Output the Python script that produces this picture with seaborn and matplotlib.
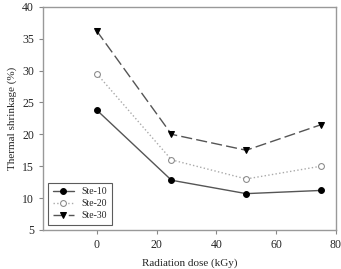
import pandas as pd
import matplotlib.pyplot as plt
import seaborn as sns

dose = [0, 25, 50, 75]
ste10 = [23.8, 12.8, 10.7, 11.2]
ste20 = [29.5, 16.0, 13.0, 15.0]
ste30 = [36.2, 20.0, 17.5, 21.5]

sns.set_style('ticks')
plt.rcParams['font.family'] = ['Liberation Serif', 'DejaVu Serif']

fig, ax = plt.subplots(figsize=(3.41, 2.69), dpi=100)

styles = [
    ('Ste-10', ste10, dict(color='#555555', linestyle='-', marker='o', markerfacecolor='black',
                           markeredgecolor='black', markersize=4.2)),
    ('Ste-20', ste20, dict(color='#aaaaaa', linestyle=':', marker='o', markerfacecolor='white',
                           markeredgecolor='#888888', markersize=4.2)),
    ('Ste-30', ste30, dict(color='#555555', linestyle=(0, (8, 3)), marker='v', markerfacecolor='black',
                           markeredgecolor='black', markersize=4.2)),
]
for name, vals, kw in styles:
    sns.lineplot(x=dose, y=vals, ax=ax, label=name, linewidth=1.0, **kw)

ax.set_xlim(-18, 80)
ax.set_ylim(5, 40)
ax.set_xticks([0, 20, 40, 60, 80])
ax.set_yticks(range(5, 41, 5))
ax.set_xlabel('Radiation dose (kGy)', fontsize=8, labelpad=5)
ax.set_ylabel('Thermal shrinkage (%)', fontsize=8)
ax.tick_params(labelsize=8.5, direction='out', length=3, color='#888888', width=0.8)
for s in ax.spines.values():
    s.set_visible(True)
    s.set_color('#999999')
    s.set_linewidth(1.0)

leg = ax.legend(loc='lower left', fontsize=7, frameon=True, fancybox=False,
                edgecolor='#333333', handlelength=2.2, borderpad=0.5, labelspacing=0.3)
leg.get_frame().set_linewidth(0.8)

fig.subplots_adjust(left=0.126, right=0.985, top=0.975, bottom=0.145)
fig.savefig('out.png', dpi=100)
